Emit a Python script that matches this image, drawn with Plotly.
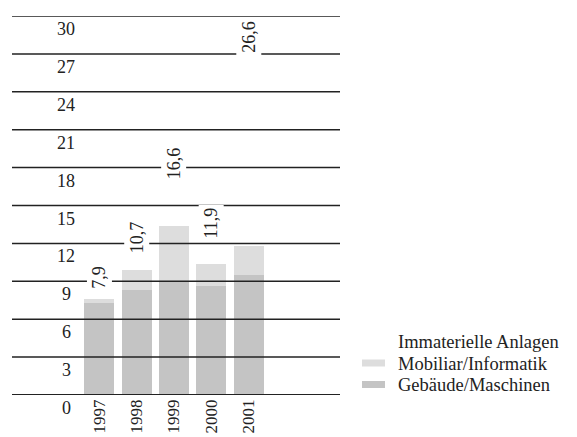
import plotly.graph_objects as go

# Investitionen nach Anlagekategorie (Mio.)
years = ["1997", "1998", "1999", "2000", "2001"]
gebaeude = [7.3, 8.3, 9.0, 8.6, 9.5]        # Gebäude/Maschinen
mobiliar = [0.3, 1.6, 4.4, 1.8, 2.3]        # Mobiliar/Informatik
immateriell = [0.3, 0.8, 3.2, 1.5, 14.8]    # Immaterielle Anlagen
y_ticks = [0, 3, 6, 9, 12, 15, 18, 21, 24, 27, 30]

series = [
    ("Gebäude/Maschinen", gebaeude, "#c4c4c4"),
    ("Mobiliar/Informatik", mobiliar, "#dddddd"),
    ("Immaterielle Anlagen", immateriell, "#ffffff"),
]
totals = [round(sum(v), 1) for v in zip(gebaeude, mobiliar, immateriell)]
positions = list(range(len(years)))

W, H = 577, 437
L, R, T, B = 12, 237, 16, 42
plot_w = W - L - R
plot_h = H - T - B

FONT = "Liberation Serif"
INK = "#222222"

fig = go.Figure()
for name, vals, col in series:
    fig.add_trace(go.Bar(
        x=positions, y=vals, name=name, width=0.8,
        marker=dict(color=col, line=dict(width=0)),
        showlegend=False,
    ))

# horizontal rules drawn over the bars
shapes = []
for v in y_ticks:
    shapes.append(dict(type="line", xref="paper", x0=0, x1=1, yref="y", y0=v, y1=v,
                       line=dict(color=INK, width=2 if v == 0 else 1.5), layer="above"))

annotations = []
# scale numbers sit just under each rule
for v in y_ticks:
    annotations.append(dict(xref="paper", x=(66 - L) / plot_w, xanchor="center",
                            yref="y", y=v, yanchor="top", yshift=-1,
                            text=str(v), showarrow=False,
                            font=dict(family=FONT, size=18, color=INK)))

# totals above each column
for xi, t in zip(positions, totals):
    annotations.append(dict(xref="x", yref="y", x=xi, y=t, yanchor="bottom", yshift=3,
                            text=f"{t:.1f}".replace(".", ","), textangle=-90,
                            showarrow=False, bgcolor="white", borderpad=2,
                            font=dict(family=FONT, size=18, color=INK)))

# legend block on the right
def px_x(p):
    return (p - L) / plot_w

def px_y(p):
    return (H - B - p) / plot_h

row_centers = [341, 362.5, 384]
for (name, _, col), cy in zip(reversed(series), row_centers):
    shapes.append(dict(type="rect", xref="paper", yref="paper",
                       x0=px_x(362), x1=px_x(385), y0=px_y(cy + 4), y1=px_y(cy - 3),
                       fillcolor=col, line=dict(width=0), layer="above"))
    annotations.append(dict(xref="paper", yref="paper", x=px_x(396), y=px_y(cy + 1),
                            xanchor="left", yanchor="middle", text=name, showarrow=False,
                            font=dict(family=FONT, size=18.5, color=INK)))

fig.update_layout(
    width=W, height=H,
    margin=dict(l=L, r=R, t=T, b=B),
    barmode="stack",
    plot_bgcolor="white", paper_bgcolor="white",
    xaxis=dict(range=[-2.33, 6.44], showgrid=False, zeroline=False, automargin=False,
               showline=False, ticks="", tickangle=-90,
               tickvals=positions, ticktext=years,
               tickfont=dict(family=FONT, size=17, color=INK)),
    yaxis=dict(range=[0, 30], showgrid=False, zeroline=False, showline=False,
               showticklabels=False, ticks="", automargin=False),
    shapes=shapes,
    annotations=annotations,
)

fig.write_html("out.html")
